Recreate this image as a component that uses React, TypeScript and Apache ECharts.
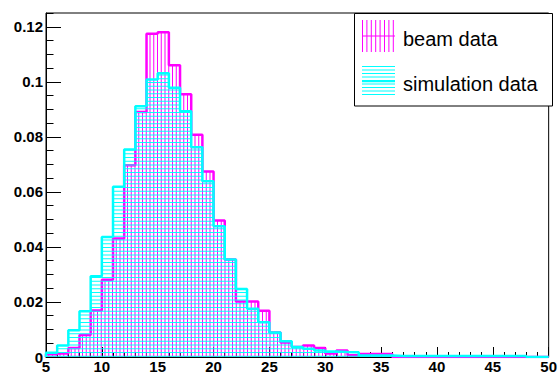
import { useEffect, useRef } from "react";
import * as echarts from "echarts";

// Bin edges (x) of the histograms
const binEdges = [
  5, 6, 7, 8, 9, 10, 11, 12, 13, 14, 15, 16, 17, 18, 19, 20, 21, 22, 23, 24,
  25, 26, 27, 28, 29, 30, 31, 32, 33, 34, 35, 36, 37, 38, 39, 40, 41, 42, 43,
  44, 45, 46, 47, 48, 49, 50,
];

// beam data (magenta), one value per bin
const beamValues = [
  0.001, 0.0013, 0.0033, 0.008, 0.0169, 0.0281, 0.0431, 0.0697, 0.089, 0.1175,
  0.118, 0.106, 0.0955, 0.0808, 0.0674, 0.0496, 0.0354, 0.0202, 0.0202, 0.0168,
  0.0089, 0.0053, 0.0036, 0.0042, 0.0033, 0.0013, 0.0024, 0.0006, 0.0011,
  0.0011, 0.0011, 0, 0, 0, 0, 0, 0, 0, 0, 0, 0, 0, 0, 0, 0,
];

// simulation data (cyan), one value per bin
const simValues = [
  0.0015, 0.0042, 0.0097, 0.0166, 0.0293, 0.0436, 0.0619, 0.0754, 0.0911,
  0.1008, 0.1031, 0.0978, 0.0893, 0.0762, 0.0639, 0.0475, 0.0354, 0.0247,
  0.0175, 0.0126, 0.0089, 0.0057, 0.0036, 0.003, 0.0024, 0.002, 0.0018, 0.0017,
  0.0005, 0.0005, 0.0005, 0.0004, 0.0004, 0.0004, 0.0004, 0.0004, 0.0004,
  0.0004, 0.0004, 0.0004, 0.0004, 0.0004, 0.0004, 0, 0,
];

const yMajorTicks = [0, 0.02, 0.04, 0.06, 0.08, 0.1, 0.12];
const legendLabels = ["beam data", "simulation data"];

const BEAM = "#ff00ff";
const SIM = "#00ffff";
const FONT = "'Liberation Sans', Arial, Helvetica, sans-serif";
const SP = 3.75; // hatch spacing in px

function stepPoints(values: number[]) {
  const pts: number[][] = [[binEdges[0], 0]];
  values.forEach((v, i) => pts.push([binEdges[i], v]));
  pts.push([binEdges[values.length], 0]);
  return pts;
}

function binData(values: number[]) {
  return values.map((v, i) => [binEdges[i], binEdges[i + 1], v]);
}

function hatchRender(vertical: boolean, color: string) {
  return (_params: any, api: any) => {
    const v = api.value(2);
    if (!v) return { type: "group", children: [] };
    const p0 = api.coord([api.value(0), 0]);
    const p1 = api.coord([api.value(1), v]);
    const x0 = p0[0];
    const x1 = p1[0];
    const yb = p0[1];
    const yt = p1[1];
    const children: any[] = [];
    if (vertical) {
      for (let x = Math.ceil(x0 / SP) * SP; x < x1; x += SP) {
        children.push({
          type: "line",
          shape: { x1: x, y1: yb, x2: x, y2: yt },
          style: { stroke: color, lineWidth: 1 },
        });
      }
    } else {
      for (let y = Math.floor(yb / SP) * SP; y > yt; y -= SP) {
        if (y >= yb) continue;
        children.push({
          type: "line",
          shape: { x1: x0, y1: y, x2: x1, y2: y },
          style: { stroke: color, lineWidth: 1 },
        });
      }
    }
    return { type: "group", children };
  };
}

function legendGraphics() {
  const els: any[] = [];
  els.push({
    type: "rect",
    shape: { x: 354.5, y: 13.5, width: 198, height: 92.5 },
    style: { fill: "#fff", stroke: "#000", lineWidth: 1 },
    z: 100,
  });
  // beam symbol: vertical hatch
  for (let x = 362.5; x <= 395; x += 4.4) {
    els.push({
      type: "line",
      shape: { x1: x, y1: 20, x2: x, y2: 52 },
      style: { stroke: BEAM, lineWidth: 1 },
      z: 101,
    });
  }
  els.push({
    type: "line",
    shape: { x1: 362, y1: 36, x2: 395, y2: 36 },
    style: { stroke: BEAM, lineWidth: 1.2 },
    z: 101,
  });
  // simulation symbol: horizontal hatch
  for (let y = 66.5; y <= 97.5; y += 3.5) {
    els.push({
      type: "line",
      shape: { x1: 362, y1: y, x2: 395, y2: y },
      style: { stroke: SIM, lineWidth: 1 },
      z: 101,
    });
  }
  els.push({
    type: "line",
    shape: { x1: 362, y1: 81.5, x2: 395, y2: 81.5 },
    style: { stroke: SIM, lineWidth: 1.5 },
    z: 101,
  });
  els.push({
    type: "text",
    x: 403,
    y: 38.5,
    style: {
      text: legendLabels[0],
      font: `20px ${FONT}`,
      fill: "#000",
      verticalAlign: "middle",
      align: "left",
    },
    z: 102,
  });
  els.push({
    type: "text",
    x: 403,
    y: 84,
    style: {
      text: legendLabels[1],
      font: `20px ${FONT}`,
      fill: "#000",
      verticalAlign: "middle",
      align: "left",
    },
    z: 102,
  });
  return els;
}

export default function App() {
  const ref = useRef<HTMLDivElement>(null);
  useEffect(() => {
    document.body.style.margin = "0";
    if (!ref.current) return;
    const chart = echarts.init(ref.current, undefined, { renderer: "svg" });
    const labelStyle = {
      fontFamily: FONT,
      fontWeight: "bold" as const,
      fontSize: 15,
      color: "#000",
    };
    chart.setOption({
      animation: false,
      backgroundColor: "#fff",
      grid: {
        left: 46,
        right: 7,
        top: 13,
        bottom: 17,
        show: true,
        borderColor: "#000",
        borderWidth: 1,
        backgroundColor: "transparent",
      },
      xAxis: {
        type: "value",
        min: binEdges[0],
        max: binEdges[binEdges.length - 1],
        interval: 5,
        axisLine: { show: true, lineStyle: { color: "#000", width: 1 } },
        axisTick: {
          show: true,
          inside: true,
          length: 10,
          lineStyle: { color: "#000" },
        },
        minorTick: {
          show: true,
          splitNumber: 5,
          length: 5,
          lineStyle: { color: "#000" },
        },
        axisLabel: { ...labelStyle, margin: 2 },
        splitLine: { show: false },
      },
      yAxis: [
        {
          type: "value",
          min: 0,
          max: 0.125,
          interval: 0.02,
          position: "left",
          axisLine: { show: true, lineStyle: { color: "#000", width: 1 } },
          axisTick: {
            show: true,
            inside: true,
            length: 15,
            lineStyle: { color: "#000" },
          },
          axisLabel: {
            ...labelStyle,
            margin: 3,
            showMaxLabel: false,
            formatter: (v: number) => {
              const hit = yMajorTicks.find((t) => Math.abs(t - v) < 1e-9);
              return hit === undefined ? "" : String(hit);
            },
          },
          splitLine: { show: false },
        },
        {
          type: "value",
          min: 0,
          max: 0.125,
          interval: 0.005,
          position: "left",
          offset: 0,
          axisLine: { show: false },
          axisTick: {
            show: true,
            inside: true,
            length: 7.5,
            lineStyle: { color: "#000" },
          },
          axisLabel: { show: false },
          splitLine: { show: false },
        },
      ],
      series: [
        {
          name: legendLabels[0] + " hatch",
          type: "custom",
          data: binData(beamValues),
          encode: { x: [0, 1], y: 2 },
          renderItem: hatchRender(true, BEAM),
          clip: true,
          silent: true,
          z: 2,
        },
        {
          name: legendLabels[0],
          type: "line",
          step: "end",
          data: stepPoints(beamValues),
          symbol: "none",
          showSymbol: false,
          lineStyle: { color: BEAM, width: 2.5 },
          silent: true,
          z: 3,
        },
        {
          name: legendLabels[1] + " hatch",
          type: "custom",
          data: binData(simValues),
          encode: { x: [0, 1], y: 2 },
          renderItem: hatchRender(false, SIM),
          clip: true,
          silent: true,
          z: 4,
        },
        {
          name: legendLabels[1],
          type: "line",
          step: "end",
          data: stepPoints(simValues),
          symbol: "none",
          showSymbol: false,
          lineStyle: { color: SIM, width: 2.5 },
          silent: true,
          z: 5,
        },
      ],
      graphic: legendGraphics(),
    });
    return () => chart.dispose();
  }, []);
  return <div ref={ref} style={{ width: 560, height: 374 }} />;
}
